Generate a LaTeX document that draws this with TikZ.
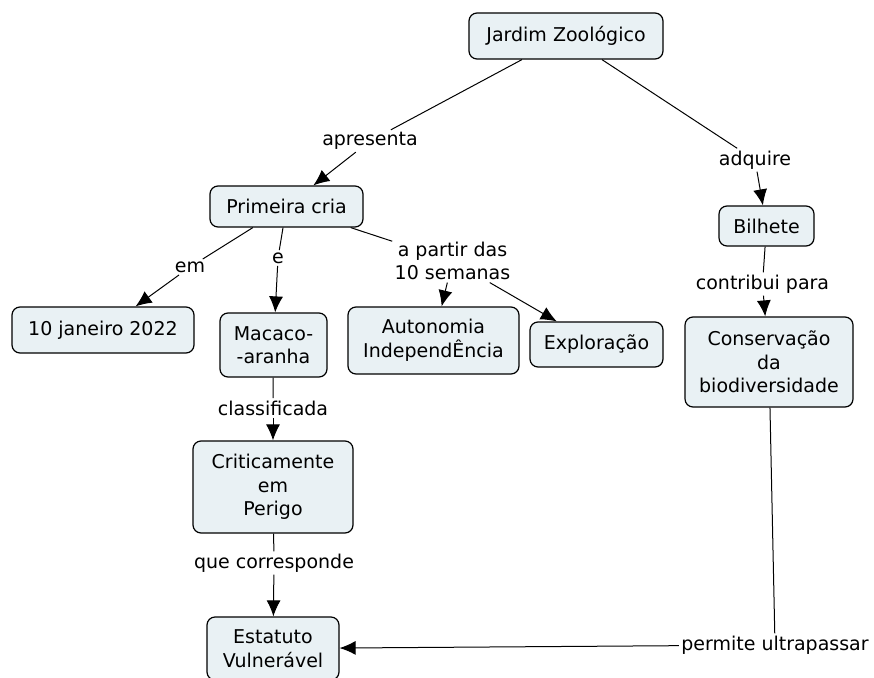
\documentclass[tikz,border=0pt]{standalone}
\usepackage{fontspec}
\setmainfont{DejaVu Sans}
\usetikzlibrary{arrows.meta}
\definecolor{boxfill}{RGB}{233,241,244}

\begin{document}
\begin{tikzpicture}[x=1pt,y=-1pt,
  font=\fontsize{19}{23.5}\selectfont,
  concept/.style={draw,fill=boxfill,rounded corners=8pt,line width=1.2pt,align=center,inner sep=0pt},
  link/.style={align=center,inner sep=2pt},
  >={Latex[length=16pt,width=14pt]}, line width=1pt]
\useasboundingbox (0,0) rectangle (874,677);
\node[concept,minimum width=194,minimum height=46] (0) at (566,36) {Jardim Zoológico};
\node[concept,minimum width=153,minimum height=41] (1) at (286.5,206.5) {Primeira cria};
\node[concept,minimum width=95,minimum height=40] (2) at (766.5,226) {Bilhete};
\node[concept,minimum width=182,minimum height=46] (3) at (103,330) {10 janeiro 2022};
\node[concept,minimum width=107,minimum height=64] (4) at (273.5,345) {Macaco-\\-aranha};
\node[concept,minimum width=171,minimum height=67] (5) at (433.5,340.5) {Autonomia\\IndependÊncia};
\node[concept,minimum width=133,minimum height=45] (6) at (596.5,344.5) {Exploração};
\node[concept,minimum width=168,minimum height=90] (7) at (769,362) {Conservação\\da\\biodiversidade};
\node[concept,minimum width=160,minimum height=92] (8) at (273,487) {Criticamente\\em\\Perigo};
\node[concept,minimum width=132,minimum height=63] (9) at (273,648.5) {Estatuto\\Vulnerável};
% ligacoes
\node[link] (l0) at (370,141) {apresenta};
\node[link] (l1) at (755,160) {adquire};
\node[link] (l2) at (762.5,284) {contribui para};
\node[link] (l3) at (190,267) {em};
\node[link] (l4) at (278,258) {e};
\node[link] (l5) at (452.5,261) {a partir das\\10 semanas};
\node[link] (l6) at (273,408) {classificada};
\node[link] (l7) at (274,563) {que corresponde};
\node[link] (l8) at (775,645) {permite ultrapassar};
\draw (0)--(l0);
\draw [->](l0)--(1);
\draw (0)--(l1);
\draw [->](l1)--(2);
\draw (2)--(l2);
\draw [->](l2)--(7);
\draw (1)--(l3);
\draw [->](l3)--(3);
\draw (1)--(l4);
\draw [->](l4)--(4);
\draw (1)--(l5);
\draw [->](l5)--(5);
\draw [->](l5)--(6);
\draw (4)--(l6);
\draw [->](l6)--(8);
\draw (8)--(l7);
\draw [->](l7)--(9);
\draw (7)--(l8);
\draw [->](l8)--(9);
\end{tikzpicture}
\end{document}
